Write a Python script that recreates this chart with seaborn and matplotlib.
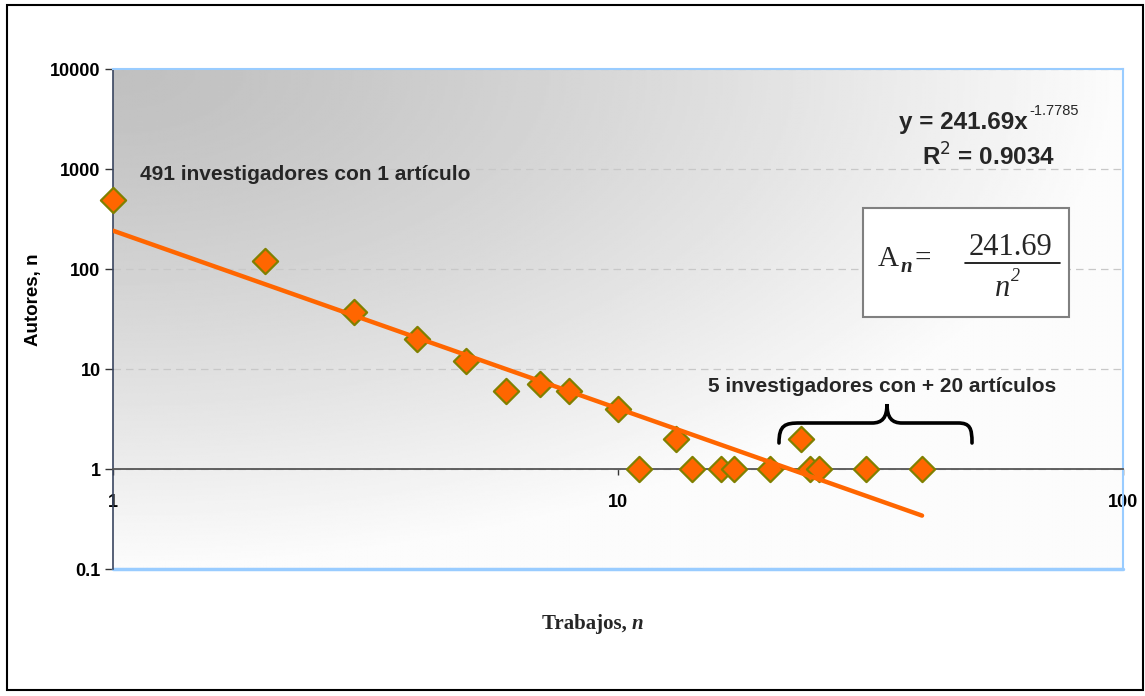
import numpy as np
import pandas as pd
import seaborn as sns
import matplotlib.pyplot as plt
from matplotlib.path import Path
from matplotlib.patches import PathPatch, Rectangle
from matplotlib.transforms import Affine2D
from matplotlib.ticker import NullLocator

# data
trabajos = [1, 2, 3, 4, 5, 6, 7, 8, 10, 11, 13, 14, 16, 17, 20, 23, 24, 25, 31, 40]
autores = [491, 120, 37, 20, 12, 6, 7, 6, 4, 1, 2, 1, 1, 1, 1, 2, 1, 1, 1, 1]

# power trendline shown on the chart
coef = 241.69
exponente = -1.7785
r2 = 0.9034

y_ticks = [0.1, 1, 10, 100, 1000, 10000]
y_tick_labels = ['0.1', '1', '10', '100', '1000', '10000']
x_ticks = [1, 10, 100]
x_tick_labels = ['1', '10', '100']

sns.set_style('white')
plt.rcParams['font.family'] = ['Liberation Sans', 'DejaVu Sans']

W, H = 1145, 696
fig = plt.figure(figsize=(W / 100, H / 100), dpi=100)
pix = Affine2D().scale(1 / W, -1 / H).translate(0, 1) + fig.transFigure  # pixel coords, origin top-left

rect = [113 / W, 1 - 569 / H, 1010 / W, 500 / H]

# gradient plot background
bg = fig.add_axes(rect, zorder=0)
u, v = np.meshgrid(np.linspace(0, 1, 400), np.linspace(0, 1, 300))
shade = 192 + 60 * np.clip(np.sqrt(u ** 2 + v ** 2), 0, 1) ** 1.3
bg.imshow(shade, cmap='gray', vmin=0, vmax=255, extent=(0, 1, 0, 1),
          origin='upper', aspect='auto', interpolation='bilinear')
bg.axis('off')

ax = fig.add_axes(rect, zorder=1)
ax.set_facecolor('none')

df = pd.DataFrame({'Trabajos': trabajos, 'Autores': autores})
sns.scatterplot(data=df, x='Trabajos', y='Autores', marker='D', s=165,
                color='#ff6600', edgecolor='#808000', linewidth=1.6,
                ax=ax, zorder=3, clip_on=False)

n_fit = np.geomspace(trabajos[0], trabajos[-1], 200)
sns.lineplot(x=n_fit, y=coef * n_fit ** exponente, color='#ff6600',
             lw=3.2, ax=ax, zorder=4)

ax.set_xscale('log')
ax.set_yscale('log')
ax.set_xlim(1, 100)
ax.set_ylim(0.1, 10000)

# x axis crosses at y = 1 (spine moved before ticks are styled)
ax.spines['bottom'].set_position(('data', 1))
ax.spines['bottom'].set_color('#555555')
ax.spines['bottom'].set_linewidth(1.3)
ax.spines['left'].set_color('#3a4660')
ax.spines['left'].set_linewidth(1.2)
for s in ['top', 'right']:
    ax.spines[s].set_color('#99ccff')
    ax.spines[s].set_linewidth(1.5)
ax.axhline(0.1, color='#99ccff', lw=2.5, clip_on=False, zorder=2)

ax.set_yticks(y_ticks)
ax.set_yticklabels(y_tick_labels, fontweight='bold', color='black')
ax.set_xticks(x_ticks)
ax.set_xticklabels(x_tick_labels, fontweight='bold', color='black')
ax.xaxis.set_minor_locator(NullLocator())
ax.yaxis.set_minor_locator(NullLocator())
ax.tick_params(axis='y', which='major', left=True, direction='out', length=6,
               width=1, color='#333333', labelsize=13, pad=3)
ax.tick_params(axis='x', which='major', bottom=True, direction='out', length=4,
               width=1, color='#333333', labelsize=13, pad=14)

ax.yaxis.grid(True, color='#c8c8c8', linestyle=(0, (6, 4)), lw=0.9)
ax.xaxis.grid(False)

ax.set_xlabel('')
ax.set_ylabel('Autores, n', fontsize=13.5, fontweight='bold', color='black')
ax.yaxis.set_label_coords((42 - 113) / 1010, (569 - 300) / 500)

fig.text(632, 624, 'Trabajos, ', transform=pix, ha='right', va='center',
         family='Liberation Serif', fontweight='bold', fontsize=15)
fig.text(632, 624, 'n', transform=pix, ha='left', va='center',
         family='Liberation Serif', fontweight='bold', style='italic', fontsize=15)

# annotations
fig.text(140, 174, '491 investigadores con 1 artículo', transform=pix,
         ha='left', va='center', fontweight='bold', fontsize=15)
fig.text(708, 387, '5 investigadores con + 20 artículos', transform=pix,
         ha='left', va='center', fontweight='bold', fontsize=15)
fig.text(1028, 122, 'y = %.2fx' % coef, transform=pix, ha='right', va='center',
         fontweight='bold', fontsize=17.5)
fig.text(1029, 111, '%.4f' % exponente, transform=pix, ha='left', va='center',
         fontsize=10.5)
fig.text(988, 157, 'R$^2$ = %.4f' % r2, transform=pix, ha='center', va='center',
         fontweight='bold', fontsize=17.5)

# curly brace over the points with more than 20 papers
brace = Path(
    [(779, 443), (779, 425), (785, 423), (800, 423), (872, 423),
     (882, 423), (887, 418), (887, 404),
     (887, 418), (892, 423), (902, 423), (958, 423),
     (970, 423), (972, 428), (972, 443)],
    [Path.MOVETO, Path.CURVE4, Path.CURVE4, Path.CURVE4, Path.LINETO,
     Path.CURVE4, Path.CURVE4, Path.CURVE4,
     Path.CURVE4, Path.CURVE4, Path.CURVE4, Path.LINETO,
     Path.CURVE4, Path.CURVE4, Path.CURVE4])
fig.add_artist(PathPatch(brace, transform=pix, fill=False, lw=2.6,
                         edgecolor='black', capstyle='round', zorder=5))

# Lotka formula box
fig.add_artist(Rectangle((863, 208), 206, 109, transform=pix, facecolor='white',
                         edgecolor='#808080', lw=1.5, zorder=5))
serif = 'Liberation Serif'
fig.text(878, 266, 'A', transform=pix, ha='left', va='baseline', family=serif,
         fontsize=21, zorder=6)
fig.text(901, 272, 'n', transform=pix, ha='left', va='baseline', family=serif,
         fontsize=15, style='italic', fontweight='bold', zorder=6)
fig.text(914, 266, '=', transform=pix, ha='left', va='baseline', family=serif,
         fontsize=21, zorder=6)
fig.text(1010, 255, '%.2f' % coef, transform=pix, ha='center', va='baseline',
         family=serif, fontsize=22, zorder=6)
fig.add_artist(plt.Line2D([965, 1060], [263, 263], transform=pix, color='black',
                          lw=1.2, zorder=6))
fig.text(1010, 296, 'n', transform=pix, ha='right', va='baseline', family=serif,
         fontsize=22, style='italic', zorder=6)
fig.text(1011, 281, '2', transform=pix, ha='left', va='baseline', family=serif,
         fontsize=13, style='italic', zorder=6)

# outer chart border
fig.add_artist(Rectangle((7, 5), 1136, 685, transform=pix, fill=False,
                         edgecolor='black', lw=1.5, zorder=7))

fig.savefig('out.png', dpi=100)
